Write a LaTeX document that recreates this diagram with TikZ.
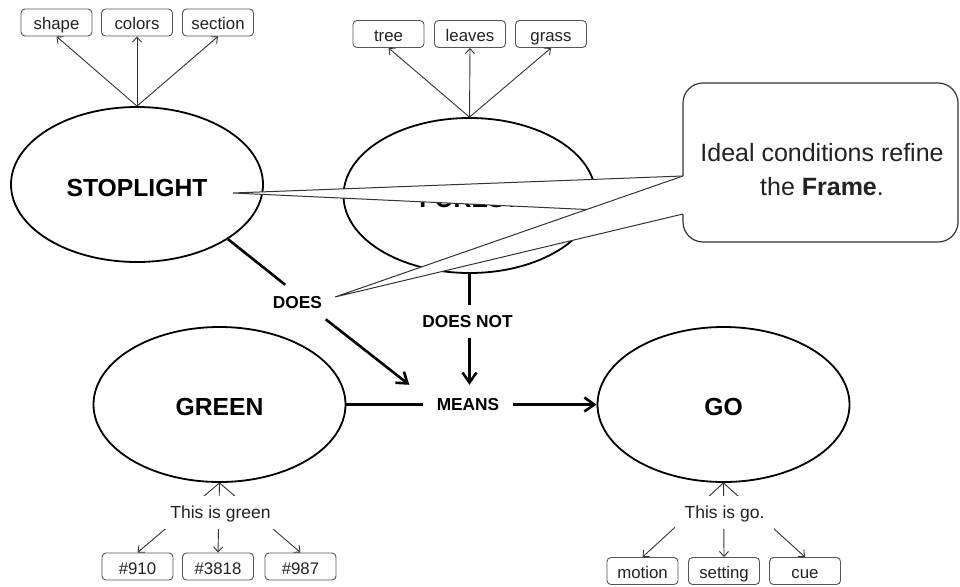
\documentclass[tikz,border=0pt]{standalone}
\usepackage{fontspec}
\setmainfont{Liberation Sans}
\usetikzlibrary{shapes.geometric,arrows.meta,calc}

\definecolor{edgegray}{HTML}{333333}
\definecolor{boxgray}{HTML}{555555}
\definecolor{inkgray}{HTML}{222222}

\tikzset{
  concept/.style={ellipse, draw=black, line width=1.8pt, minimum width=252pt,
    minimum height=155pt, inner sep=0pt,
    font=\fontsize{24.7}{28}\selectfont\bfseries, text height=24pt, text depth=0pt},
  tagbox/.style={rectangle, rounded corners=4pt, draw=boxgray, line width=0.9pt,
    minimum width=71pt, minimum height=27pt, inner sep=0pt,
    font=\fontsize{16.8}{20}\selectfont, text=inkgray,
    text height=15.5pt, text depth=0.5pt},
  fanarrow/.style={draw=edgegray, line width=0.9pt, -{Straight Barb[length=5pt,width=9pt]}},
  fanlabel/.style={fill=white, inner xsep=10pt, inner ysep=0pt, minimum height=33pt,
    font=\fontsize{17.5}{20}\selectfont, text=inkgray,
    text height=14pt, text depth=2pt},
  linkword/.style={font=\fontsize{17.3}{20}\selectfont\bfseries, inner sep=0pt},
  link/.style={line width=2.6pt, draw=black},
  linkarrow/.style={link, -{Straight Barb[length=10pt,width=14pt]}},
  calloutline/.style={draw=edgegray, line width=1pt},
}

\begin{document}
\begin{tikzpicture}[x=1pt,y=-1pt]
\useasboundingbox (0,0) rectangle (960,586);

% concept ellipses
\node[concept] (stop)   at (137,184.5)   {STOPLIGHT};
\node[concept] (forest) at (469.5,195.5) {FOREST};
\node[concept, text height=22pt] (green) at (219.5,404.5) {GREEN};
\node[concept, text height=22pt] (go)    at (723.5,404.5) {GO};

% small tag boxes
\node[tagbox] (shape)   at (56.5,22.5) {shape};
\node[tagbox] (colors)  at (137,22.5)  {colors};
\node[tagbox] (section) at (218,22.5)  {section};
\node[tagbox] (tree)    at (388.5,34)  {tree};
\node[tagbox] (leaves)  at (470,34)    {leaves};
\node[tagbox] (grass)   at (551,34)    {grass};
\node[tagbox] (n910)    at (137.5,566.5) {\#910};
\node[tagbox] (n3818)   at (218,566.5)   {\#3818};
\node[tagbox] (n987)    at (300.5,566.5) {\#987};
\node[tagbox] (motion)  at (642.5,571) {motion};
\node[tagbox] (setting) at (724,571)   {setting};
\node[tagbox] (cue)     at (805,571)   {cue};

% fans of thin arrows
\foreach \t in {shape,colors,section} \draw[fanarrow] (stop.north) -- (\t.south);
\foreach \t in {tree,leaves,grass} \draw[fanarrow] (forest.north) -- (\t.south);
\foreach \t in {n910,n3818,n987} \draw[fanarrow] (green.south) -- (\t.north);
\foreach \t in {motion,setting,cue} \draw[fanarrow] (go.south) -- (\t.north);
\node[fanlabel] (thisgreen) at (220.5,512) {This is green};
\node[fanlabel] (thisgo)    at (724.5,512) {This is go.};

% linking words
\node[linkword, minimum width=56pt, minimum height=36pt] (does) at (297.5,303) {DOES};
\node[linkword, minimum height=33pt] (doesnot) at (467.5,321.5) {DOES NOT};
\node[linkword, minimum width=89pt, minimum height=39pt] (means) at (468,404.5) {MEANS};

\draw[link] (stop.-31) -- (does.124);
\draw[linkarrow] (does.-30) -- ([xshift=-14pt]means.north west);
\draw[link] (forest.south) -- (forest.south |- doesnot.north);
\draw[linkarrow] (forest.south |- doesnot.south) -- (forest.south |- means.north);
\draw[link] (green.east) -- (means.west);
\draw[linkarrow] (means.east) -- (go.west);

% speech bubble with two tails
\coordinate (tipA) at (233,193);
\coordinate (tipB) at (335,297);
\coordinate (baseTop) at (683,176);
\coordinate (baseBot) at (683,214);
\path[fill=white, calloutline] (baseTop) -- (tipA) -- (baseBot);
\path[fill=white, calloutline] (baseTop) -- (tipB) -- (baseBot);
\fill[white, rounded corners=20pt] (683,83) rectangle (958,242);
\draw[calloutline, line width=1.2pt, rounded corners=20pt]
  (baseTop) -- (683,83) -- (958,83) -- (958,242) -- (683,242) -- (baseBot);
\node[font=\fontsize{25}{34}\selectfont, align=center, text=inkgray, inner sep=0pt]
  (note) at (822,170) {Ideal conditions refine\\the \textbf{Frame}.};
\end{tikzpicture}
\end{document}
